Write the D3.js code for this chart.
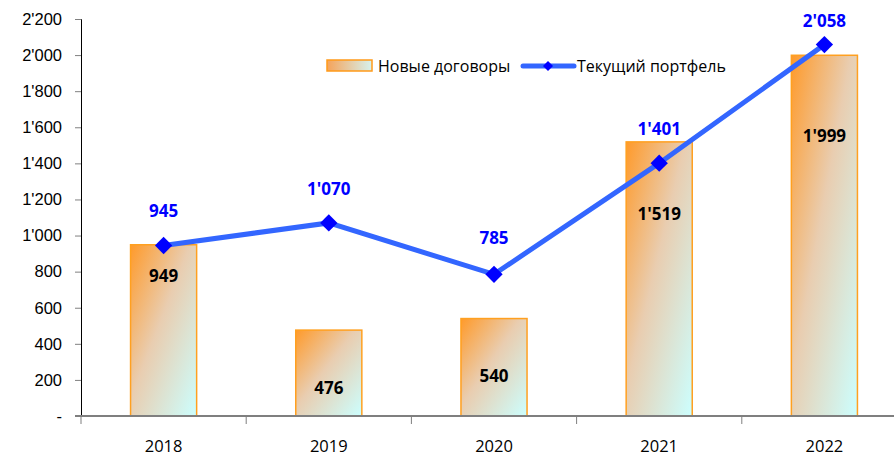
<!DOCTYPE html>
<html>
<head>
<meta charset="utf-8">
<script src="https://cdn.jsdelivr.net/npm/d3@7"></script>
<style>
    body { margin: 0; background: #fff; }
    svg { display: block; font-family: "Open Sans", "Liberation Sans", sans-serif; }
</style>
</head>
<body>
<div id="chart"></div>
<script>
// data
const years = ["2018", "2019", "2020", "2021", "2022"];
const newContracts = [949, 476, 540, 1519, 1999];
const portfolio = [945, 1070, 785, 1401, 2058];
const yTicks = [0, 200, 400, 600, 800, 1000, 1200, 1400, 1600, 1800, 2000, 2200];

const width = 894, height = 458;
const margin = { top: 19, bottom: 42, left: 81 };

const svg = d3.select("#chart").append("svg")
    .attr("width", width)
    .attr("height", height);

const locale = d3.formatLocale({ decimal: ".", thousands: "'", grouping: [3], currency: ["", ""] });
const fmt = locale.format(",d");
const fmtTick = v => v === 0 ? "-" : fmt(v);

const x = d3.scaleBand()
    .domain(years)
    .range([margin.left, margin.left + 5 * 165.2])
    .paddingInner(0.6)
    .paddingOuter(0.3);

const y = d3.scaleLinear()
    .domain([0, 2200])
    .range([height - margin.bottom, margin.top]);

// gradient for bars
const defs = svg.append("defs");
const grad = defs.append("linearGradient")
    .attr("id", "barGrad")
    .attr("x1", 0).attr("y1", 0).attr("x2", 1).attr("y2", 1);
grad.append("stop").attr("offset", "0%").attr("stop-color", "#ff9a2a");
grad.append("stop").attr("offset", "45%").attr("stop-color", "#e9cdb0");
grad.append("stop").attr("offset", "100%").attr("stop-color", "#ccffff");

const legGrad = defs.append("linearGradient")
    .attr("id", "legGrad")
    .attr("x1", 0).attr("y1", 0).attr("x2", 1).attr("y2", 0);
legGrad.append("stop").attr("offset", "0%").attr("stop-color", "#f5a35a");
legGrad.append("stop").attr("offset", "100%").attr("stop-color", "#d6f2ee");

// y axis
const yAxis = svg.append("g")
    .attr("transform", "translate(" + margin.left + ",0)")
    .call(d3.axisLeft(y).tickValues(yTicks).tickFormat(fmtTick).tickSize(6).tickPadding(13));
yAxis.select(".domain").attr("stroke", "#000").attr("stroke-width", 1);
yAxis.selectAll(".tick line").attr("stroke", "#808080");
yAxis.selectAll("text").attr("font-size", 16.5).attr("fill", "#000");

// bars
svg.selectAll(".bar")
    .data(newContracts)
    .join("rect")
    .attr("class", "bar")
    .attr("x", (d, i) => x(years[i]))
    .attr("y", d => y(d))
    .attr("width", x.bandwidth())
    .attr("height", d => y(0) - y(d))
    .attr("fill", "url(#barGrad)")
    .attr("stroke", "#ffa020")
    .attr("stroke-width", 1.5);

// x axis
const xAxisG = svg.append("g")
    .attr("transform", "translate(0," + y(0) + ")");
xAxisG.append("line")
    .attr("x1", margin.left - 6).attr("x2", width)
    .attr("stroke", "#7f7f7f").attr("stroke-width", 2);
const bandStep = x.step();
const bandStart = x(years[0]) - x.paddingOuter() * bandStep;
xAxisG.selectAll(".xtick")
    .data(d3.range(years.length + 1))
    .join("line")
    .attr("x1", i => bandStart + i * bandStep)
    .attr("x2", i => bandStart + i * bandStep)
    .attr("y1", 0).attr("y2", 8)
    .attr("stroke", "#7f7f7f");
xAxisG.selectAll(".xlabel")
    .data(years)
    .join("text")
    .attr("x", d => x(d) + x.bandwidth() / 2)
    .attr("y", 36)
    .attr("text-anchor", "middle")
    .attr("font-size", 16.5)
    .attr("fill", "#000")
    .text(d => d);

// bar labels (offsets below bar top, as placed in the original)
const barLabelOffsets = [37, 64, 63, 78, 87];
svg.selectAll(".barLabel")
    .data(newContracts)
    .join("text")
    .attr("x", (d, i) => x(years[i]) + x.bandwidth() / 2)
    .attr("y", (d, i) => y(d) + barLabelOffsets[i])
    .attr("text-anchor", "middle")
    .attr("font-size", 17)
    .attr("font-weight", "bold")
    .attr("fill", "#000")
    .text(d => fmt(d));

// line
const line = d3.line()
    .x((d, i) => x(years[i]) + x.bandwidth() / 2)
    .y(d => y(d));
svg.append("path")
    .datum(portfolio)
    .attr("d", line)
    .attr("fill", "none")
    .attr("stroke", "#3366ff")
    .attr("stroke-width", 5);

const diamond = d3.symbol().type(d3.symbolSquare).size(150);
svg.selectAll(".marker")
    .data(portfolio)
    .join("path")
    .attr("d", diamond)
    .attr("transform", (d, i) => "translate(" + (x(years[i]) + x.bandwidth() / 2) + "," + y(d) + ") rotate(45)")
    .attr("fill", "#0000ff");

// line labels (last one sits closer to its point, as in the original)
const lineLabelOffsets = [28, 28, 30, 28, 18];
svg.selectAll(".lineLabel")
    .data(portfolio)
    .join("text")
    .attr("x", (d, i) => x(years[i]) + x.bandwidth() / 2)
    .attr("y", (d, i) => y(d) - lineLabelOffsets[i])
    .attr("text-anchor", "middle")
    .attr("font-size", 17)
    .attr("font-weight", "bold")
    .attr("fill", "#0000ff")
    .text(d => fmt(d));

// legend
const legend = svg.append("g").attr("transform", "translate(327,60)");
legend.append("rect")
    .attr("x", 0).attr("y", 0).attr("width", 45).attr("height", 11)
    .attr("fill", "url(#legGrad)")
    .attr("stroke", "#ff9a1a").attr("stroke-width", 1.5);
legend.append("text")
    .attr("x", 51).attr("y", 12)
    .attr("font-size", 16)
    .attr("fill", "#000")
    .text("Новые договоры");
legend.append("line")
    .attr("x1", 196).attr("x2", 247).attr("y1", 6).attr("y2", 6)
    .attr("stroke", "#3366ff").attr("stroke-width", 5).attr("stroke-linecap", "round");
legend.append("path")
    .attr("d", d3.symbol().type(d3.symbolSquare).size(50))
    .attr("transform", "translate(221,6) rotate(45)")
    .attr("fill", "#0000ff");
legend.append("text")
    .attr("x", 250).attr("y", 12)
    .attr("font-size", 16)
    .attr("fill", "#000")
    .text("Текущий портфель");
</script>
</body>
</html>
